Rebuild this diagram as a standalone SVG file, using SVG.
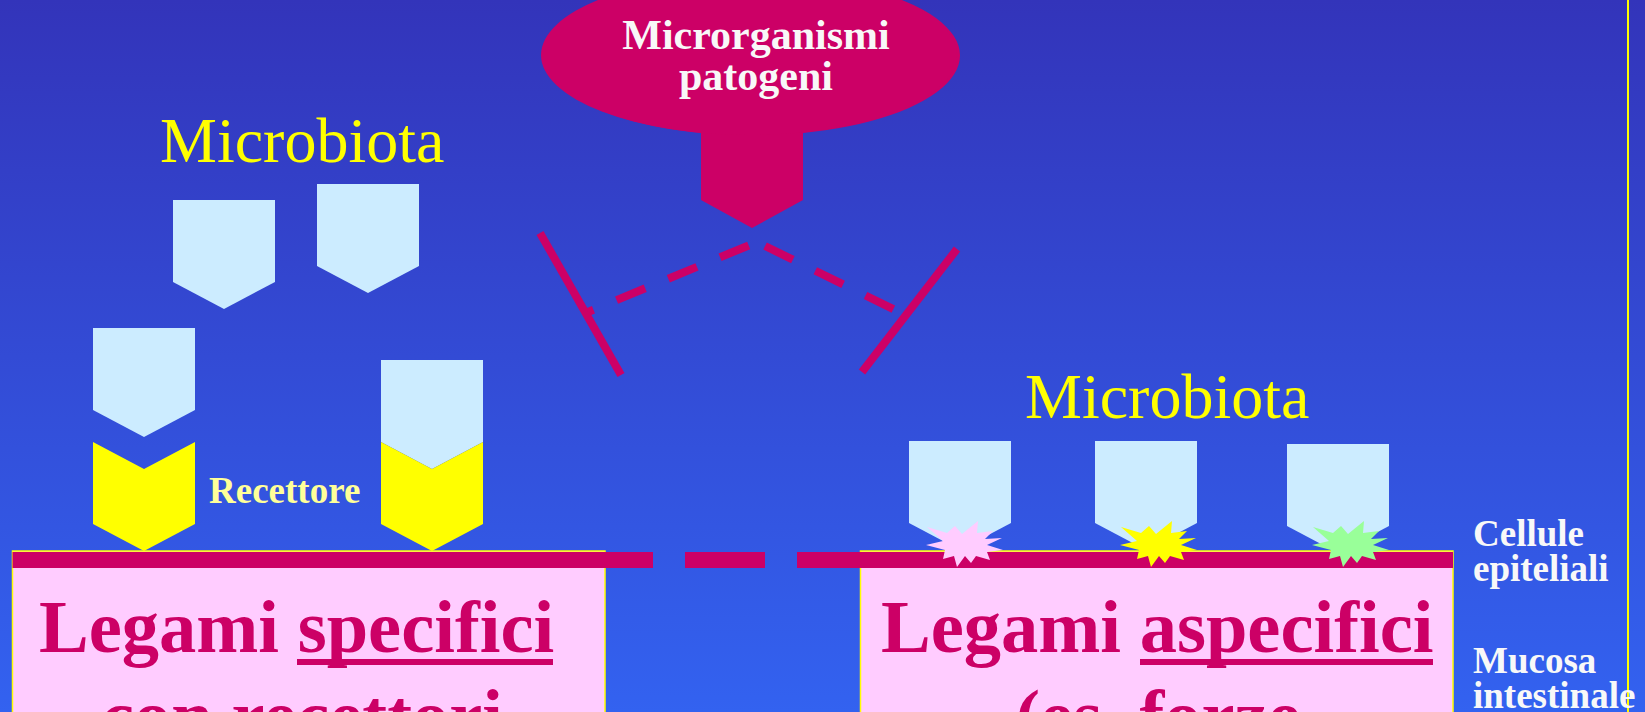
<svg xmlns="http://www.w3.org/2000/svg" xmlns:xlink="http://www.w3.org/1999/xlink" width="1645" height="712" viewBox="0 0 1645 712">
  <defs>
    <linearGradient id="bg" x1="0" y1="0" x2="0" y2="1">
      <stop offset="0" stop-color="#3334BA"/>
      <stop offset="1" stop-color="#3362F0"/>
    </linearGradient>
    <!-- bacterium: square body ending in a downward point -->
    <path id="cell" d="M0,0 H102 V82 L51,109 L0,82 Z"/>
    <!-- receptor: chevron with a notch that fits the bacterium point -->
    <path id="receptor" d="M0,0 L51,27 L102,0 V82 L51,109 L0,82 Z"/>
    <!-- contact burst for aspecific binding -->
    <path id="burst" d="M-36,-17 L-16,-11 L-8,-18 L-1,-10 L15,-23 L14,-11 L30,-13 L22,-5 L39,-6 L24,1 L40,6 L24,8 L27,16 L13,12 L8,19 L2,12 L-6,23 L-9,12 L-20,15 L-18,6 L-37,1 L-20,-3 Z"/>
  </defs>
  <style>
    .bact { fill: #CCECFF; }
    .rec { fill: #FFFF00; }
    .mag { fill: #CC0066; }
    .box { fill: #FFCCFF; stroke: #FFFF00; stroke-width: 1.5; }
    .serif { font-family: "Liberation Serif", "Times New Roman", serif; }
    .micro { font-size: 64px; fill: #FFFF00; }
    .big { font-size: 74.5px; font-weight: bold; fill: #CC0066; font-variant-ligatures: none; }
    .side { font-size: 37px; font-weight: bold; fill: #F8F8F8; }
    .solid { stroke: #CC0066; stroke-width: 8; fill: none; }
    .dash { stroke: #CC0066; stroke-width: 8; fill: none; stroke-dasharray: 31 25; stroke-dashoffset: 47; }
  </style>

  <rect x="0" y="0" width="1645" height="712" fill="url(#bg)"/>
  <line x1="1628" y1="0" x2="1628" y2="712" stroke="#FFFF00" stroke-width="2"/>

  <!-- pathogens callout -->
  <g id="pathogens">
    <path class="mag" d="M701,133 A208,80 0 1 1 803,133 V200 L752,228 L701,200 Z"/>
    <ellipse class="mag" cx="749" cy="55" rx="208" ry="80"/>
    <text class="serif" x="756" y="49" text-anchor="middle" font-size="42" font-weight="bold" fill="#F8F8F8">Microrganismi</text>
    <text class="serif" x="756" y="90" text-anchor="middle" font-size="42" font-weight="bold" fill="#F8F8F8">patogeni</text>
  </g>

  <!-- blocked paths of the pathogens -->
  <g id="connectors">
    <line class="solid" x1="540" y1="233" x2="621" y2="375"/>
    <line class="solid" x1="957" y1="249" x2="862" y2="372"/>
    <line class="dash" x1="757" y1="242" x2="588" y2="312"/>
    <line class="dash" x1="757" y1="242" x2="895" y2="310"/>
  </g>

  <!-- mucosa boxes -->
  <g id="box-specific">
    <rect class="box" x="12.5" y="551" width="592.5" height="180"/>
    <text class="serif big" x="39" y="652">Legami specifici</text>
    <rect class="mag" x="297" y="659" width="256" height="6"/>
    <text class="serif big" x="302" y="741" text-anchor="middle">con recettori</text>
  </g>
  <g id="box-aspecific">
    <rect class="box" x="860.5" y="551" width="592.5" height="180"/>
    <text class="serif big" x="881" y="652">Legami aspecifici</text>
    <rect class="mag" x="1140" y="659" width="293" height="6"/>
    <text class="serif big" x="1158" y="741" text-anchor="middle">(es. forze</text>
  </g>

  <!-- epithelial layer -->
  <g id="epithelium">
    <rect class="mag" x="12.5" y="552" width="640.5" height="16"/>
    <rect class="mag" x="685" y="552" width="80" height="16"/>
    <rect class="mag" x="797" y="552" width="656" height="16"/>
  </g>

  <!-- left microbiota with receptors -->
  <g id="microbiota-left">
    <text class="serif micro" x="160" y="162">Microbiota</text>
    <use href="#cell" class="bact" x="173" y="200"/>
    <use href="#cell" class="bact" x="317" y="184"/>
    <use href="#cell" class="bact" x="93" y="328"/>
    <use href="#cell" class="bact" x="381" y="360"/>
  </g>
  <g id="receptors">
    <use href="#receptor" class="rec" x="93" y="442"/>
    <use href="#receptor" class="rec" x="381" y="442"/>
    <text class="serif" x="209" y="503" font-size="37" font-weight="bold" fill="#FFFF99">Recettore</text>
  </g>

  <!-- right microbiota with aspecific contacts -->
  <g id="microbiota-right">
    <text class="serif micro" x="1025" y="418">Microbiota</text>
    <use href="#cell" class="bact" x="909" y="441"/>
    <use href="#cell" class="bact" x="1095" y="441"/>
    <use href="#cell" class="bact" x="1287" y="444"/>
    <use href="#burst" x="963" y="544" fill="#FFCCFF"/>
    <use href="#burst" x="1157" y="544" fill="#FFFF00"/>
    <use href="#burst" x="1349" y="544" fill="#99FF99"/>
  </g>

  <!-- layer labels -->
  <g id="labels">
    <text class="serif side" x="1473" y="546">Cellule</text>
    <text class="serif side" x="1473" y="581">epiteliali</text>
    <text class="serif side" x="1473" y="673">Mucosa</text>
    <text class="serif side" x="1473" y="708">intestinale</text>
  </g>
</svg>
